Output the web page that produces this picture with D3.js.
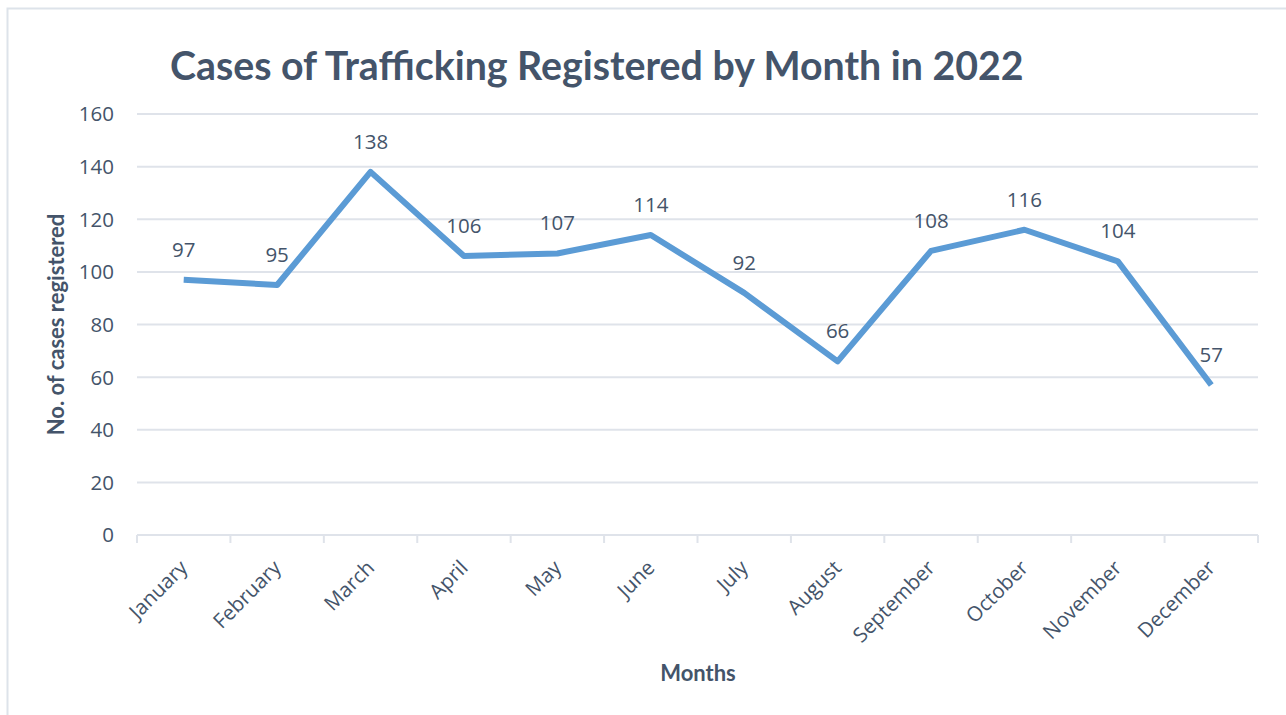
<!DOCTYPE html>
<html lang="en">
  <head>
    <meta charset="utf-8">
    <title>Cases of Trafficking Registered by Month in 2022</title>
    <script src="https://cdn.jsdelivr.net/npm/d3@7"></script>
    <style>
      body { margin: 0; background: #fff; }
      text { font-family: "Open Sans", Lato, sans-serif; fill: #44546A; }
      .bold { font-family: Lato, "Open Sans", sans-serif; font-weight: bold; }
    </style>
  </head>
  <body>
    <div id="chart"></div>
  </body>
</html>

<script>

const months = ["January", "February", "March", "April", "May", "June",
  "July", "August", "September", "October", "November", "December"];
const cases = [97, 95, 138, 106, 107, 114, 92, 66, 108, 116, 104, 57];
const yTicks = [0, 20, 40, 60, 80, 100, 120, 140, 160];

const width = 1286;
const height = 715;
const margin = {top: 114, right: 28, bottom: 180, left: 137};

const lineColor = "#5B9BD5";
const gridColor = "#dfe3ea";

const svg = d3.select("#chart")
  .append("svg")
  .attr("width", width)
  .attr("height", height);

// chart frame
svg.append("rect")
  .attr("x", 7.5)
  .attr("y", 8.5)
  .attr("width", width)
  .attr("height", height)
  .style("fill", "none")
  .style("stroke", "#dde3ea")
  .style("stroke-width", 2);

const x = d3.scaleBand()
  .domain(months)
  .range([margin.left, width - margin.right]);

const y = d3.scaleLinear()
  .domain([0, 160])
  .range([height - margin.bottom, margin.top]);

// gridlines
svg.append("g")
  .selectAll("line")
  .data(yTicks.filter(d => d > 0))
  .join("line")
  .attr("x1", margin.left)
  .attr("x2", width - margin.right)
  .attr("y1", d => y(d))
  .attr("y2", d => y(d))
  .style("stroke", gridColor)
  .style("stroke-width", 2);

// y tick labels
svg.append("g")
  .selectAll("text")
  .data(yTicks)
  .join("text")
  .attr("x", margin.left - 23)
  .attr("y", d => y(d))
  .attr("dy", "0.36em")
  .attr("text-anchor", "end")
  .style("font-size", "20.5px")
  .text(d => d);

// x axis
const xAxis = svg.append("g")
  .attr("transform", `translate(0, ${y(0)})`);

xAxis.append("line")
  .attr("x1", margin.left)
  .attr("x2", width - margin.right)
  .style("stroke", gridColor)
  .style("stroke-width", 2);

const edges = months.map(m => x(m)).concat([x.range()[1]]);
xAxis.selectAll(".tick")
  .data(edges)
  .join("line")
  .attr("class", "tick")
  .attr("x1", d => d)
  .attr("x2", d => d)
  .attr("y1", 0)
  .attr("y2", 8)
  .style("stroke", gridColor)
  .style("stroke-width", 2);

xAxis.selectAll(".label")
  .data(months)
  .join("text")
  .attr("class", "label")
  .attr("text-anchor", "end")
  .attr("transform", d => `translate(${x(d) + x.bandwidth() / 2}, 29) rotate(-45)`)
  .attr("dy", "0.35em")
  .style("font-size", "20.5px")
  .text(d => d);

// line
const line = d3.line()
  .x((d, i) => x(months[i]) + x.bandwidth() / 2)
  .y(d => y(d));

svg.append("path")
  .datum(cases)
  .attr("d", line)
  .style("fill", "none")
  .style("stroke", lineColor)
  .style("stroke-width", 6)
  .style("stroke-linejoin", "round");

// data labels
svg.append("g")
  .selectAll("text")
  .data(cases)
  .join("text")
  .attr("x", (d, i) => x(months[i]) + x.bandwidth() / 2)
  .attr("y", d => y(d) - 23)
  .attr("text-anchor", "middle")
  .style("font-size", "20.5px")
  .text(d => d);

// title
const title = svg.append("text")
  .attr("class", "bold")
  .attr("x", 170)
  .attr("y", 80)
  .style("font-size", "36px")
  .text("Cases of Trafficking Registered by Month in 2022");

const tw = title.node().getComputedTextLength();
title.style("font-size", `${36 * 854 / tw}px`);

// axis titles
svg.append("text")
  .attr("class", "bold")
  .attr("transform", `translate(64, ${(y(0) + y(160)) / 2}) rotate(-90)`)
  .attr("text-anchor", "middle")
  .style("font-size", "22px")
  .text("No. of cases registered");

svg.append("text")
  .attr("class", "bold")
  .attr("x", 698)
  .attr("y", 681)
  .attr("text-anchor", "middle")
  .style("font-size", "22px")
  .text("Months");

</script>
